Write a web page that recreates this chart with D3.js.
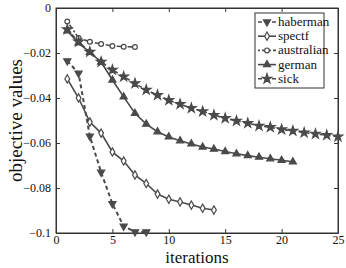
<!DOCTYPE html>
<html><head><meta charset="utf-8">
<script src="https://cdn.jsdelivr.net/npm/d3@7"></script>
<style>body{margin:0;background:#fff}svg{display:block}svg text{font-family:"Liberation Serif","DejaVu Serif",serif !important}</style>
</head><body>
<script>
const xTicks = [0,5,10,15,20,25];
const yTicks = [0,-0.02,-0.04,-0.06,-0.08,-0.1];
const yTickLabels = ["0","\u22120.02","\u22120.04","\u22120.06","\u22120.08","\u22120.1"];
const seriesNames = ["haberman","spectf","australian","german","sick"];
const haberman = [-0.0235,-0.029,-0.057,-0.073,-0.087,-0.097,-0.0995,-0.0995];
const spectf = [-0.0315,-0.040,-0.0507,-0.0556,-0.064,-0.068,-0.0742,-0.078,-0.0827,-0.085,-0.0862,-0.0876,-0.089,-0.0898];
const australian = [-0.006,-0.0133,-0.015,-0.016,-0.0169,-0.0172,-0.0173];
const german = [-0.0102,-0.0155,-0.0197,-0.024,-0.032,-0.0395,-0.0468,-0.0516,-0.055,-0.0573,-0.059,-0.0604,-0.0618,-0.0627,-0.0638,-0.0648,-0.0656,-0.0663,-0.067,-0.0677,-0.0684];
const sick = [-0.0095,-0.015,-0.0195,-0.024,-0.0275,-0.0305,-0.0335,-0.0364,-0.0387,-0.041,-0.0427,-0.0445,-0.046,-0.0476,-0.049,-0.0502,-0.0512,-0.0524,-0.053,-0.054,-0.0546,-0.0554,-0.056,-0.0565,-0.0572];
const seriesData = [haberman, spectf, australian, german, sick];
const dashes = ["4,3", null, "2,2,5,2", null, "4,3"];
const markers = ["tridown","diamond","circle","triangle","star"];

const W=346,H=268, L=56, R=338, T=8, B=233;
const col="#4a4a4a";
const svg=d3.select("body").append("svg").attr("width",W).attr("height",H);
const x=d3.scaleLinear().domain([0,25]).range([L,R]);
const y=d3.scaleLinear().domain([-0.1,0]).range([B,T]);
const font="Liberation Serif";

svg.append("rect").attr("x",L).attr("y",T).attr("width",R-L).attr("height",B-T).attr("fill","none").attr("stroke","#333").attr("stroke-width",1);

svg.append("g").attr("transform",`translate(0,${B})`).call(d3.axisBottom(x).tickValues(xTicks).tickSizeInner(-4).tickSizeOuter(0).tickPadding(2));
svg.append("g").attr("transform",`translate(${L},0)`).call(d3.axisLeft(y).tickValues(yTicks).tickFormat((d,i)=>yTickLabels[i]).tickSizeInner(-4).tickSizeOuter(0).tickPadding(5));
svg.append("g").attr("transform",`translate(0,${T})`).call(d3.axisTop(x).tickValues(xTicks).tickSizeInner(-4).tickSizeOuter(0).tickFormat(""));
svg.append("g").attr("transform",`translate(${R},0)`).call(d3.axisRight(y).tickValues(yTicks).tickSizeInner(-4).tickSizeOuter(0).tickFormat(""));
svg.selectAll("g").attr("font-family",font);
svg.selectAll(".domain").attr("stroke","#333");
svg.selectAll(".tick line").attr("stroke","#333");
svg.selectAll(".tick text").attr("font-family",font).attr("font-size",12).attr("fill","#111");

function sym(m){
  const s={tridown:d3.symbolTriangle,diamond:d3.symbolDiamond,circle:d3.symbolCircle,triangle:d3.symbolTriangle,star:d3.symbolStar}[m];
  const sz={tridown:22,diamond:20,circle:18,triangle:22,star:28}[m];
  return d3.symbol().type(s).size(sz)();
}
const markerFill={tridown:col,diamond:"#fff",circle:"#fff",triangle:col,star:col};

const line=d3.line().x((d,i)=>x(i+1)).y(d=>y(d));
seriesData.forEach((data,k)=>{
  const g=svg.append("g");
  g.append("path").attr("d",line(data)).attr("fill","none").attr("stroke",col).attr("stroke-width",k===0?2:1.6)
   .attr("stroke-dasharray",dashes[k]);
  g.selectAll("path.m").data(data).enter().append("path").attr("class","m")
   .attr("d",sym(markers[k]))
   .attr("transform",(d,i)=>`translate(${x(i+1)},${y(d)})`+(markers[k]==="tridown"?" rotate(180)":""))
   .attr("fill",markerFill[markers[k]]).attr("stroke",col).attr("stroke-width",1.2);
});

const lg=svg.append("g").attr("transform","translate(255,13)");
lg.append("rect").attr("width",69).attr("height",75).attr("fill","#fff").attr("stroke","#333").attr("stroke-width",1);
seriesNames.forEach((n,k)=>{
  const yy=9+k*14.2;
  lg.append("line").attr("x1",3).attr("x2",21).attr("y1",yy).attr("y2",yy).attr("stroke",col).attr("stroke-width",1.6).attr("stroke-dasharray",dashes[k]);
  lg.append("path").attr("d",sym(markers[k])).attr("transform",`translate(12,${yy})`+(markers[k]==="tridown"?" rotate(180)":""))
    .attr("fill",markerFill[markers[k]]).attr("stroke",col).attr("stroke-width",1.2);
  lg.append("text").attr("x",23).attr("y",yy+4).text(n).attr("font-family",font).attr("font-size",13).attr("fill","#111");
});

svg.append("text").attr("x",(L+R)/2).attr("y",263).attr("text-anchor","middle").attr("font-family",font).attr("font-size",17).attr("fill","#111").text("iterations");
svg.append("text").attr("transform",`translate(22,${(T+B)/2}) rotate(-90)`).attr("text-anchor","middle").attr("font-family",font).attr("font-size",19).attr("fill","#111").text("objective values");
</script>
</body></html>
